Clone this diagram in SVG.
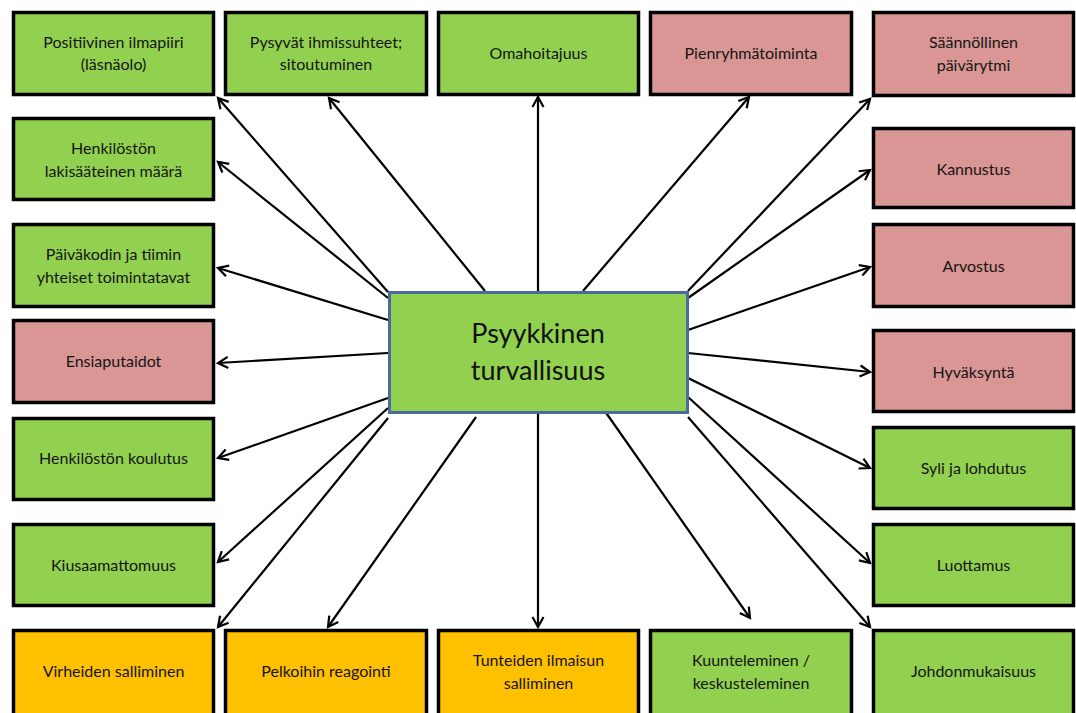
<svg xmlns="http://www.w3.org/2000/svg" width="1076" height="713" viewBox="0 0 1076 713">
<defs>
<style>
.box{stroke:#000;stroke-width:3.5}
.g{fill:#92d050}.p{fill:#d99694}.o{fill:#ffc000}
.t{font-family:Lato,"Liberation Sans",sans-serif;font-size:16px;fill:#151515;text-anchor:middle}
.c{font-family:Lato,"Liberation Sans",sans-serif;font-size:27px;fill:#111;text-anchor:middle}
.ln{stroke:#000;stroke-width:2.2;fill:none;marker-end:url(#ah)}
</style>
<marker id="ah" markerUnits="userSpaceOnUse" markerWidth="16" markerHeight="16" viewBox="-12 -8 14 16" refX="0" refY="0" orient="auto">
<path d="M-10,-5.5 L0,0 L-10,5.5" fill="none" stroke="#000" stroke-width="2.2"/>
</marker>
</defs>
<rect width="1076" height="713" fill="#fff"/>
<g id="connectors">
<line class="ln" x1="388" y1="292" x2="218" y2="98"/>
<line class="ln" x1="388" y1="298" x2="218" y2="162"/>
<line class="ln" x1="485" y1="291" x2="329" y2="98"/>
<line class="ln" x1="538" y1="291" x2="538" y2="97"/>
<line class="ln" x1="583" y1="291" x2="749" y2="97"/>
<line class="ln" x1="688" y1="291" x2="870" y2="99"/>
<line class="ln" x1="688" y1="298" x2="870" y2="170"/>
<line class="ln" x1="688" y1="330" x2="870" y2="267"/>
<line class="ln" x1="688" y1="353" x2="870" y2="372"/>
<line class="ln" x1="688" y1="378" x2="870" y2="468"/>
<line class="ln" x1="688" y1="397" x2="870" y2="563"/>
<line class="ln" x1="688" y1="417" x2="870" y2="627"/>
<line class="ln" x1="602" y1="407" x2="750" y2="618"/>
<line class="ln" x1="538" y1="414" x2="538" y2="627"/>
<line class="ln" x1="476" y1="417" x2="328" y2="627"/>
<line class="ln" x1="388" y1="418" x2="218" y2="627"/>
<line class="ln" x1="388" y1="408" x2="218" y2="562"/>
<line class="ln" x1="388" y1="398" x2="218" y2="458"/>
<line class="ln" x1="388" y1="353" x2="218" y2="363"/>
<line class="ln" x1="388" y1="320" x2="218" y2="268"/>
</g>
<g id="center">
<rect x="389.5" y="292.5" width="298" height="120" fill="#92d050" stroke="#4a6b9c" stroke-width="3"/>
<text class="c" x="538" y="343">Psyykkinen</text>
<text class="c" x="538" y="380">turvallisuus</text>
</g>
<g id="n-positiivinen"><rect class="box g" x="13.5" y="12.5" width="200" height="82"/><text class="t" x="113.5" y="48">Positiivinen ilmapiiri</text><text class="t" x="113.5" y="70">(läsnäolo)</text></g>
<g id="n-pysyvat"><rect class="box g" x="225.5" y="12.5" width="201" height="82"/><text class="t" x="326" y="48">Pysyvät ihmissuhteet;</text><text class="t" x="326" y="70">sitoutuminen</text></g>
<g id="n-omahoitajuus"><rect class="box g" x="438.5" y="12.5" width="200" height="82"/><text class="t" x="538.5" y="59">Omahoitajuus</text></g>
<g id="n-pienryhma"><rect class="box p" x="650.5" y="12.5" width="201" height="82"/><text class="t" x="751" y="59">Pienryhmätoiminta</text></g>
<g id="n-saannollinen"><rect class="box p" x="873.5" y="12.5" width="200" height="83"/><text class="t" x="973.5" y="48">Säännöllinen</text><text class="t" x="973.5" y="71">päivärytmi</text></g>
<g id="n-henkilosto"><rect class="box g" x="13.5" y="118.5" width="200" height="81"/><text class="t" x="113.5" y="154">Henkilöstön</text><text class="t" x="113.5" y="177">lakisääteinen määrä</text></g>
<g id="n-paivakodin"><rect class="box g" x="13.5" y="224.5" width="200" height="82"/><text class="t" x="113.5" y="260">Päiväkodin ja tiimin</text><text class="t" x="113.5" y="283">yhteiset toimintatavat</text></g>
<g id="n-ensiapu"><rect class="box p" x="13.5" y="320.5" width="200" height="82"/><text class="t" x="113.5" y="367">Ensiaputaidot</text></g>
<g id="n-koulutus"><rect class="box g" x="13.5" y="418.5" width="200" height="81"/><text class="t" x="113.5" y="464">Henkilöstön koulutus</text></g>
<g id="n-kiusaamattomuus"><rect class="box g" x="13.5" y="524.5" width="200" height="81"/><text class="t" x="113.5" y="571">Kiusaamattomuus</text></g>
<g id="n-virheiden"><rect class="box o" x="13.5" y="630.5" width="200" height="90"/><text class="t" x="113.5" y="677">Virheiden salliminen</text></g>
<g id="n-pelkoihin"><rect class="box o" x="225.5" y="630.5" width="201" height="90"/><text class="t" x="326" y="677">Pelkoihin reagointi</text></g>
<g id="n-tunteiden"><rect class="box o" x="438.5" y="630.5" width="200" height="90"/><text class="t" x="538.5" y="666">Tunteiden ilmaisun</text><text class="t" x="538.5" y="689">salliminen</text></g>
<g id="n-kuunteleminen"><rect class="box g" x="650.5" y="630.5" width="201" height="90"/><text class="t" x="751" y="666">Kuunteleminen /</text><text class="t" x="751" y="689">keskusteleminen</text></g>
<g id="n-johdonmukaisuus"><rect class="box g" x="873.5" y="630.5" width="200" height="90"/><text class="t" x="973.5" y="677">Johdonmukaisuus</text></g>
<g id="n-kannustus"><rect class="box p" x="873.5" y="128.5" width="200" height="79"/><text class="t" x="973.5" y="175">Kannustus</text></g>
<g id="n-arvostus"><rect class="box p" x="873.5" y="224.5" width="200" height="82"/><text class="t" x="973.5" y="272">Arvostus</text></g>
<g id="n-hyvaksynta"><rect class="box p" x="873.5" y="330.5" width="200" height="81"/><text class="t" x="973.5" y="378">Hyväksyntä</text></g>
<g id="n-syli"><rect class="box g" x="873.5" y="427.5" width="200" height="81"/><text class="t" x="973.5" y="474">Syli ja lohdutus</text></g>
<g id="n-luottamus"><rect class="box g" x="873.5" y="524.5" width="200" height="81"/><text class="t" x="973.5" y="571">Luottamus</text></g>
</svg>
